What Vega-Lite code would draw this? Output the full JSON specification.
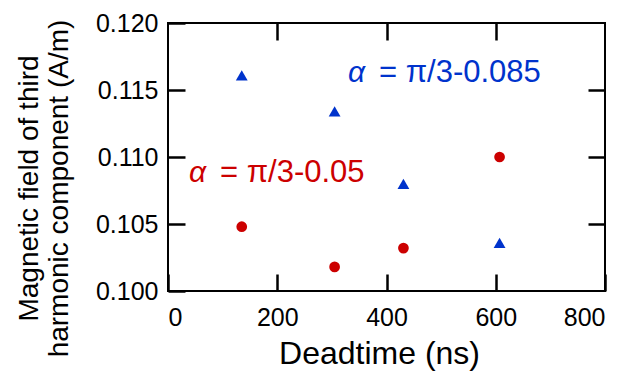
{
  "$schema": "https://vega.github.io/schema/vega-lite/v6.json",
  "autosize": "none",
  "width": 437,
  "height": 268,
  "padding": {"left": 168, "top": 23, "right": 37, "bottom": 84},
  "background": "white",
  "config": {
    "view": {"stroke": "black", "strokeWidth": 2},
    "font": "Liberation Sans",
    "axis": {"grid": false, "domain": false, "tickColor": "black", "tickWidth": 2.5, "tickSize": -17, "labelColor": "black", "titleColor": "black", "labelFont": "Liberation Sans", "titleFont": "Liberation Sans", "titleFontWeight": "normal"}
  },
  "datasets": {
    "pts": [
      {"deadtime": 135, "field": 0.1161, "series": "a085"},
      {"deadtime": 305, "field": 0.1134, "series": "a085"},
      {"deadtime": 431, "field": 0.1080, "series": "a085"},
      {"deadtime": 607, "field": 0.1036, "series": "a085"},
      {"deadtime": 135, "field": 0.1048, "series": "a05"},
      {"deadtime": 305, "field": 0.1018, "series": "a05"},
      {"deadtime": 431, "field": 0.1032, "series": "a05"},
      {"deadtime": 607, "field": 0.1100, "series": "a05"}
    ],
    "labels": [
      {"x": 329.5, "y": 0.1156, "alpha": "α", "rest": "= π/3-0.085", "series": "a085"},
      {"x": 38.4, "y": 0.1081, "alpha": "α", "rest": "= π/3-0.05", "series": "a05"}
    ]
  },
  "layer": [
    {
      "data": {"name": "pts"},
      "mark": {"type": "point", "filled": true, "opacity": 1},
      "encoding": {
        "x": {"field": "deadtime", "type": "quantitative", "scale": {"domain": [0, 800]},
          "axis": {"orient": "bottom", "values": [0, 200, 400, 600, 800], "labelFontSize": 25, "labelPadding": 31, "title": "Deadtime (ns)", "titleFontSize": 32, "titleBaseline": "alphabetic", "titleAlign": "center", "titleX": 211, "titleY": 72}},
        "y": {"field": "field", "type": "quantitative", "scale": {"domain": [0.1, 0.12]},
          "axis": {"orient": "left", "values": [0.1, 0.105, 0.11, 0.115, 0.12], "format": ".3f", "labelFontSize": 25, "labelPadding": 27, "title": ["Magnetic field of third", "harmonic component (A/m)"], "titleFontSize": 28, "titleLineHeight": 30, "titleAngle": -90, "titleBaseline": "alphabetic", "titleAlign": "center", "titleX": -131, "titleY": 165}},
        "shape": {"field": "series", "type": "nominal", "scale": {"domain": ["a085", "a05"], "range": ["triangle-up", "circle"]}, "legend": null},
        "color": {"field": "series", "type": "nominal", "scale": {"domain": ["a085", "a05"], "range": ["#0033cc", "#cc0000"]}, "legend": null},
        "size": {"field": "series", "type": "nominal", "scale": {"domain": ["a085", "a05"], "range": [140, 115]}, "legend": null}
      }
    },
    {
      "data": {"name": "pts"},
      "mark": {"type": "point", "opacity": 0},
      "encoding": {
        "x": {"field": "deadtime", "type": "quantitative", "scale": {"domain": [0, 800]},
          "axis": {"orient": "top", "values": [200, 400, 600], "labels": false, "title": null}},
        "y": {"field": "field", "type": "quantitative", "scale": {"domain": [0.1, 0.12]},
          "axis": {"orient": "right", "values": [0.105, 0.11, 0.115], "labels": false, "title": null}}
      }
    },
    {
      "data": {"name": "labels"},
      "mark": {"type": "text", "fontSize": 30, "fontStyle": "italic", "align": "left", "baseline": "alphabetic"},
      "encoding": {
        "x": {"field": "x", "type": "quantitative", "axis": null},
        "y": {"field": "y", "type": "quantitative", "axis": null},
        "text": {"field": "alpha"},
        "color": {"field": "series", "type": "nominal", "scale": {"domain": ["a085", "a05"], "range": ["#0033cc", "#cc0000"]}, "legend": null}
      }
    },
    {
      "data": {"name": "labels"},
      "mark": {"type": "text", "fontSize": 31, "align": "left", "baseline": "alphabetic", "dx": 31},
      "encoding": {
        "x": {"field": "x", "type": "quantitative", "axis": null},
        "y": {"field": "y", "type": "quantitative", "axis": null},
        "text": {"field": "rest"},
        "color": {"field": "series", "type": "nominal", "scale": {"domain": ["a085", "a05"], "range": ["#0033cc", "#cc0000"]}, "legend": null}
      }
    }
  ],
  "resolve": {"axis": {"x": "independent", "y": "independent"}}
}
